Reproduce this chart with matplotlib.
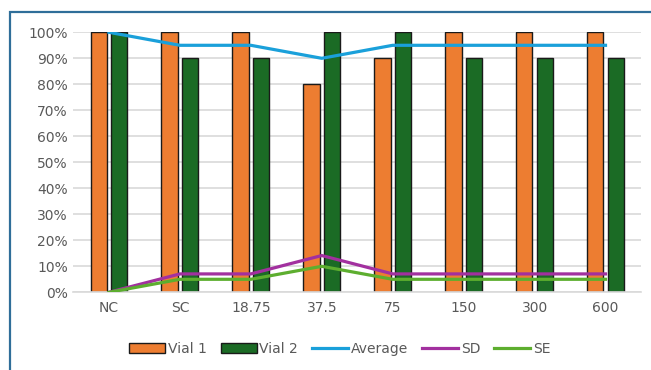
import matplotlib.pyplot as plt
import numpy as np
from matplotlib.patches import Rectangle
from matplotlib.ticker import PercentFormatter

categories = ["NC", "SC", "18.75", "37.5", "75", "150", "300", "600"]
vial_1 = [100, 100, 100, 80, 90, 100, 100, 100]
vial_2 = [100, 90, 90, 100, 100, 90, 90, 90]
average = [100, 95, 95, 90, 95, 95, 95, 95]
sd = [0, 7.07, 7.07, 14.14, 7.07, 7.07, 7.07, 7.07]
se = [0, 5, 5, 10, 5, 5, 5, 5]

plt.rcParams["font.family"] = ["DejaVu Sans"]

fig = plt.figure(figsize=(6.51, 3.70), dpi=100)
ax = fig.add_axes([0.1129, 0.210, 0.8717, 0.7027])

x = np.arange(len(categories))
width = 0.23
offset = 0.145

b1 = ax.bar(x - offset, vial_1, width, color="#ED7D31", edgecolor="#1a1a1a",
            linewidth=1, label="Vial 1", zorder=2)
b2 = ax.bar(x + offset, vial_2, width, color="#1B6B25", edgecolor="#1a1a1a",
            linewidth=1, label="Vial 2", zorder=2)
l1, = ax.plot(x, average, color="#1AA0DA", linewidth=2.3, label="Average", zorder=3)
l2, = ax.plot(x, sd, color="#A2309F", linewidth=2.3, label="SD", zorder=3)
l3, = ax.plot(x, se, color="#5DAE2F", linewidth=2.3, label="SE", zorder=3)

ax.set_xlim(-0.5, len(categories) - 0.5)
ax.set_ylim(0, 100)
ax.set_yticks(np.arange(0, 101, 10))
ax.yaxis.set_major_formatter(PercentFormatter(decimals=0))
ax.set_xticks(x)
ax.set_xticklabels(categories)
ax.grid(axis="y", color="#D9D9D9", linewidth=1.2, zorder=0)
ax.set_axisbelow(True)

for side in ["top", "right", "left"]:
    ax.spines[side].set_visible(False)
ax.spines["bottom"].set_color("#D9D9D9")
ax.spines["bottom"].set_linewidth(1.2)
ax.tick_params(axis="both", length=0, labelsize=10, labelcolor="#595959")
ax.tick_params(axis="x", pad=6)
ax.tick_params(axis="y", pad=4)

handles = [b1, b2, l1, l2, l3]
fig.legend(handles, [h.get_label() for h in handles], loc="center",
           bbox_to_anchor=(0.522, 0.057), ncol=5, frameon=False,
           fontsize=10, labelcolor="#595959", handlelength=2.6,
           handleheight=0.8, handletextpad=0.2, columnspacing=1.0)

# frame around the chart area
fig.patches.append(Rectangle((10 / 651, -0.05), 1.0, 1 - 12 / 370 + 0.05,
                             transform=fig.transFigure, fill=False,
                             edgecolor="#2F6E99", linewidth=1.6))

fig.savefig("out.png", dpi=100)
